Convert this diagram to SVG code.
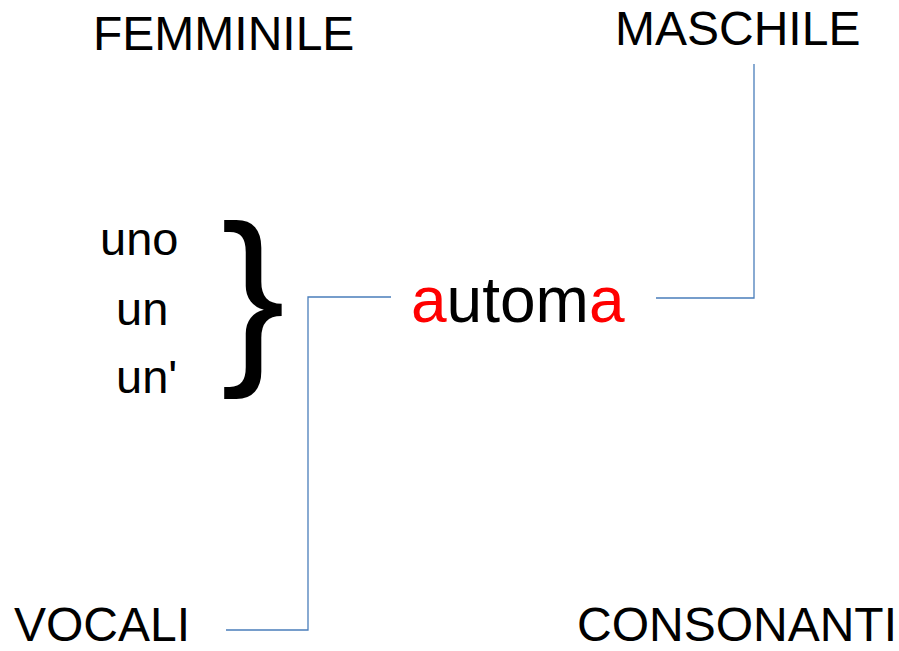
<svg xmlns="http://www.w3.org/2000/svg" width="899" height="651" viewBox="0 0 899 651">
<style>
text{font-family:"Liberation Sans",Arial,sans-serif;fill:#000}
.lbl{font-size:48px}
.art{font-size:47px}
.red{fill:#ff0000}
.conn{fill:none;stroke:#4a7ebb;stroke-width:1.3}
</style>
<rect width="899" height="651" fill="#fff"/>
<g id="femminile"><text class="lbl" x="93" y="50">FEMMINILE</text></g>
<g id="maschile"><text class="lbl" x="615" y="45">MASCHILE</text></g>
<g id="vocali"><text class="lbl" x="14" y="641">VOCALI</text></g>
<g id="consonanti"><text class="lbl" x="577" y="641">CONSONANTI</text></g>
<g id="articoli">
<text class="art" x="100" y="255">uno</text>
<text class="art" x="116" y="325">un</text>
<text class="art" x="116" y="393">un'</text>
</g>
<g id="graffa"><text x="221" y="359" style="font-size:192px">}</text></g>
<g id="automa"><text x="411" y="322" style="font-size:64px"><tspan class="red">a</tspan>utom<tspan class="red">a</tspan></text></g>
<g id="connectors">
<polyline class="conn" points="391,297 308,297 308,630 226,630"/>
<polyline class="conn" points="656,298 754,298 754,64"/>
</g>
</svg>
